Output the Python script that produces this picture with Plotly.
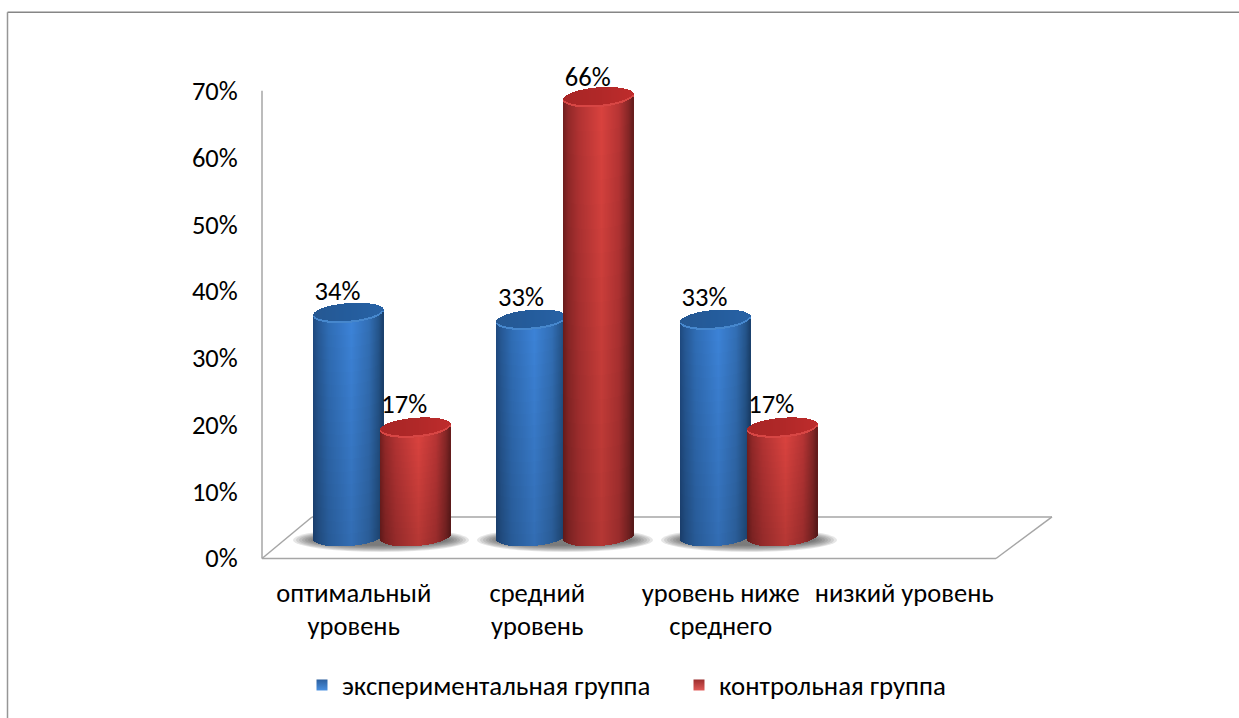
import numpy as np
import plotly.graph_objects as go

categories = ["оптимальный<br>уровень", "средний<br>уровень", "уровень ниже<br>среднего", "низкий уровень"]
experimental = [34, 33, 33, None]
control = [17, 66, 17, None]
series_names = ["экспериментальная группа", "контрольная группа"]
y_ticks = [0, 10, 20, 30, 40, 50, 60, 70]

FONT = "Carlito, Lato, 'Open Sans', sans-serif"
FS = 26.5
W, H = 1239, 718
L, R, T70, B = 262, 996, 91, 558
PX_X = (R - L) / 4
PX_Y = (B - T70) / 70
Y_MAX = 74
T = B - Y_MAX * PX_Y


def dx(px):
    return px / PX_X


def dy(px):
    return px / PX_Y


def fx(px):  # paper coordinates
    return (px - L) / (R - L)


def fy(px):
    return (B - px) / (B - T)


def mix(stops_pos, stops_col, t):
    c = [np.interp(t, stops_pos, [s[i] for s in stops_col]) for i in range(3)]
    return "rgb(%d,%d,%d)" % tuple(int(round(v)) for v in c)


POS = [-1, -0.85, -0.55, 0.1, 0.6, 0.88, 1]
BLUE = [(30, 72, 126), (38, 88, 148), (47, 108, 180), (60, 130, 214), (50, 110, 180), (36, 84, 138), (26, 64, 108)]
RED = [(112, 30, 30), (145, 40, 40), (176, 50, 50), (216, 66, 62), (182, 52, 52), (132, 38, 38), (100, 28, 28)]
BLUE_RIM = (70, 135, 205)
RED_RIM = (215, 70, 68)
BLUE_CAP = [(38, 88, 146), (36, 92, 156), (40, 98, 165)]
RED_CAP = [(168, 38, 38), (176, 40, 40), (190, 44, 44)]

HALF_W = 35
A = dy(9.6)
TILT = dy(2.6)
BASE_C = dy(558 - 536.5)
RIM = dy(1.6)
N = 70
STEPS = 18


def cylinder(values, offset_px, col_side, rim_col, cap_col):
    xs, bases, heights, cols = [], [], [], []
    for i, v in enumerate(values):
        if v is None:
            continue
        cx = i + dx(offset_px)
        top_c = 2.4 + v * 1.01
        for k in range(N):
            t = -1 + (2 * k + 1) / N
            s = np.sqrt(1 - t * t)
            x = cx + t * dx(HALF_W)
            bottom = BASE_C + TILT * t - A * s
            front = top_c + TILT * t - A * s
            back = top_c + TILT * t + A * s
            edges = np.linspace(bottom, front, STEPS + 1)
            for j in range(STEPS):
                f = 0.84 + 0.16 * j / (STEPS - 1)
                xs.append(x)
                bases.append(edges[j])
                heights.append(edges[j + 1] - edges[j] + 0.05)
                cols.append(col_side(t, f))
            xs.append(x); bases.append(front); heights.append(RIM); cols.append(mix([0, 1], [rim_col, rim_col], 0))
            xs.append(x); bases.append(front + RIM); heights.append(max(back - front - RIM, 0.001))
            cols.append(mix([-1, 0, 1], cap_col, t))
    return xs, bases, heights, cols


def side(stops):
    def fn(t, f):
        c = [np.interp(t, POS, [s[i] for s in stops]) * f for i in range(3)]
        return "rgb(%d,%d,%d)" % tuple(int(round(v)) for v in c)
    return fn


BLUE_OFF = -5.25
RED_OFF = 61.5
LABEL_OFF = -11

fig = go.Figure()

for vals, off, col, rim, cap in [
    (experimental, BLUE_OFF, side(BLUE), BLUE_RIM, BLUE_CAP),
    (control, RED_OFF, side(RED), RED_RIM, RED_CAP),
]:
    xs, bases, heights, cols = cylinder(vals, off, col, rim, cap)
    fig.add_trace(go.Bar(
        x=xs, y=heights, base=bases, width=dx(1.4), marker=dict(color=cols, line=dict(width=0)),
        showlegend=False, hoverinfo="skip", cliponaxis=False,
    ))

for vals, off in [(experimental, BLUE_OFF), (control, RED_OFF)]:
    idx = [i for i, v in enumerate(vals) if v is not None]
    fig.add_trace(go.Scatter(
        x=[i + dx(off + LABEL_OFF) for i in idx],
        y=[vals[i] + 5.7 for i in idx],
        text=["%d%%" % vals[i] for i in idx],
        mode="text", textposition="middle center",
        textfont=dict(family=FONT, size=FS, color="#000000"),
        showlegend=False, hoverinfo="skip", cliponaxis=False,
    ))

fig.add_trace(go.Scatter(
    x=[None], y=[None], mode="markers", name=series_names[0], legend="legend",
    marker=dict(symbol="square", size=11, color="#2c5f9e",
                gradient=dict(type="vertical", color="#4a90e0"), line=dict(width=0)),
))
fig.add_trace(go.Scatter(
    x=[None], y=[None], mode="markers", name=series_names[1], legend="legend2",
    marker=dict(symbol="square", size=11, color="#9c2e2e",
                gradient=dict(type="vertical", color="#e05a58"), line=dict(width=0)),
))

shapes = []
GRAY = "#a6a6a6"


def line(x0, y0, x1, y1, color=GRAY, width=1.5):
    shapes.append(dict(type="line", xref="paper", yref="paper", x0=fx(x0), y0=fy(y0), x1=fx(x1), y1=fy(y1),
                       line=dict(color=color, width=width), layer="below"))


line(7.5, 12.5, W, 12.5, "#868686", 1.5)
line(7.5, 12.5, 7.5, H, "#969696", 1.5)
line(262, 558.5, 996, 558.5)
line(262, 558.5, 312, 517)
line(312, 517, 1052, 517)
line(1052, 517, 996, 558.5)
line(262, 91, 262, 558.5)

for x0, x1 in [(293, 469), (477, 653), (661, 837)]:
    for g in range(8):
        shapes.append(dict(type="circle", xref="paper", yref="paper",
                           x0=fx(x0 + g * 3), x1=fx(x1 - g * 3),
                           y0=fy(528 + g * 0.9), y1=fy(552 - g * 0.9),
                           fillcolor="rgba(60,60,60,0.13)", line=dict(width=0), layer="below"))

span_open = "<span style='font-size:%spx'>" % FS
ticktext = [span_open + c.replace("<br>", "</span><br>" + span_open) + "</span>" for c in categories]


def legend_box(px):
    return dict(x=fx(px), y=fy(661), xanchor="left", yanchor="top", orientation="h",
                font=dict(size=26.8, family=FONT), bgcolor="rgba(0,0,0,0)", itemwidth=30)


fig.update_layout(
    width=W, height=H, autosize=False,
    margin=dict(l=L, r=W - R, t=T, b=H - B, autoexpand=False),
    paper_bgcolor="white", plot_bgcolor="rgba(0,0,0,0)",
    barmode="overlay", bargap=0,
    font=dict(family=FONT, size=FS, color="#000000"),
    shapes=shapes,
    xaxis=dict(range=[-0.5, 3.5], tickmode="array", tickvals=list(range(4)), ticktext=ticktext,
               tickfont=dict(size=25, family=FONT), showgrid=False, zeroline=False, showline=False,
               ticks="outside", ticklen=13, tickcolor="rgba(0,0,0,0)", automargin=False),
    yaxis=dict(range=[0, Y_MAX], tickmode="array", tickvals=y_ticks, ticktext=["%d%%" % v for v in y_ticks],
               tickfont=dict(size=FS, family=FONT), showgrid=False, zeroline=False, showline=False,
               ticks="outside", ticklen=18, tickcolor="rgba(0,0,0,0)", automargin=False),
    legend=legend_box(302),
    legend2=legend_box(679),
    showlegend=True,
)

fig.write_html("out.html", post_script="document.body.style.margin='0';", config={"displayModeBar": False})
